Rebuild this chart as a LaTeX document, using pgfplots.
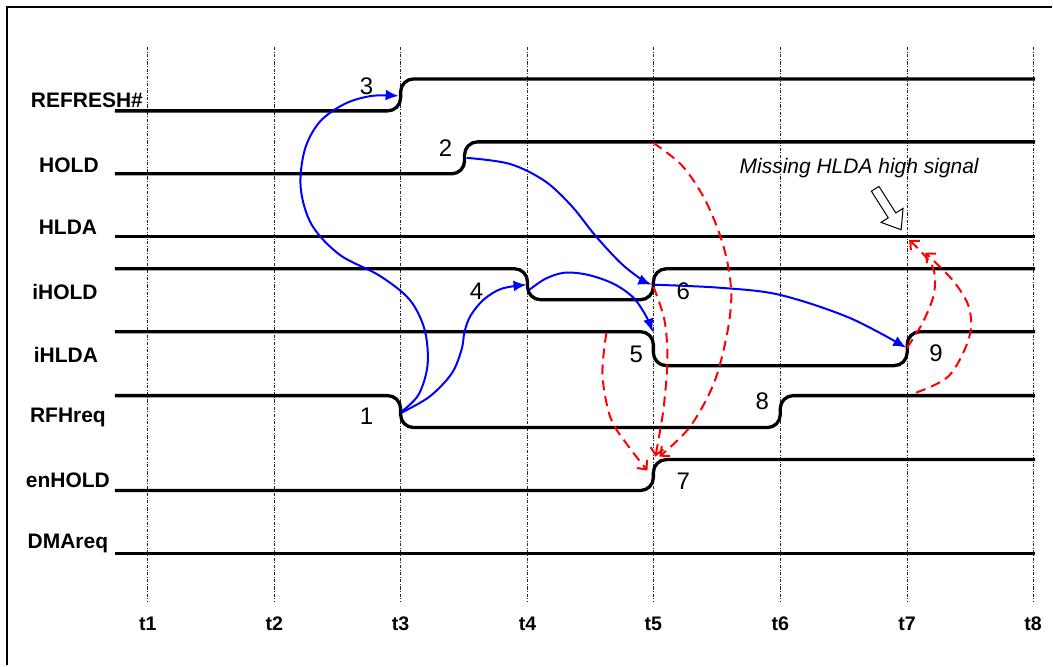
\documentclass[border=0pt]{standalone}
\usepackage{fontspec}
\setmainfont{Liberation Sans}
\usepackage{pgfplots}
\pgfplotsset{compat=1.18}
\usetikzlibrary{arrows.meta}
\tikzset{
  sig/.style={black, line width=1.65pt, rounded corners=6.5pt},
  blu/.style={blue, line width=1pt, smooth, tension=0.55, -{Latex[length=6.5pt,width=5.5pt]}},
  rd/.style={red, line width=1pt, smooth, tension=0.55, dash pattern=on 5pt off 3pt, -{Straight Barb[length=3.5pt,width=6.5pt]}},
  lab/.style={font=\fontsize{10.5}{12}\selectfont\bfseries},
  tl/.style={font=\fontsize{9.8}{11}\selectfont\bfseries},
  num/.style={font=\fontsize{12}{14}\selectfont}}
\begin{document}
\begin{tikzpicture}
\begin{axis}[scale only axis, width=526.5pt, height=333pt,
  xmin=0, xmax=1053, ymin=0, ymax=666, y dir=reverse, hide axis, clip=false]
\addplot[draw=none] coordinates {(0,0)(1053,666)};
% frame
\addplot[black, line width=1pt] coordinates {(7,666)(7,7)(1053,7)};
% grid
\pgfplotsinvokeforeach{148,274.6,401,528,654,781,908,1034}{
  \addplot[black!85, line width=0.4pt, dash pattern=on 1.6pt off 0.8pt on 0.4pt off 0.8pt] coordinates {(#1,47)(#1,603)};
}
% signals
\addplot[sig] coordinates {(115,111)(401,111)(401,79)(1036,79)};
\addplot[sig] coordinates {(115,174)(465,174)(465,142)(1036,142)};
\addplot[sig] coordinates {(115,237)(1036,237)};
\addplot[sig] coordinates {(115,269)(528,269)(528,300)(654,300)(654,269)(1036,269)};
\addplot[sig] coordinates {(115,332)(654,332)(654,366)(908,366)(908,332)(1036,332)};
\addplot[sig] coordinates {(115,396)(401,396)(401,428)(781,428)(781,396)(1036,396)};
\addplot[sig] coordinates {(115,491)(654,491)(654,460)(1036,460)};
\addplot[sig] coordinates {(115,554)(1036,554)};
% blue arrows
\addplot[blu] coordinates {(402,412)(419,395)(428,365)(425,330)(410,300)(380,276)(340,255)(312,225)(301,188)(305,150)(320,122)(345,104)(372,96)(399,96)};
\addplot[blu] coordinates {(402,413)(430,397)(452,374)(462,350)(465,332)(471,316)(484,300)(502,289)(527,285)};
\addplot[blu] coordinates {(467,158)(510,164)(545,181)(572,206)(596,236)(621,263)(641,279)(652,285)};
\addplot[blu] coordinates {(530,290)(546,279)(565,273)(588,275)(614,284)(634,298)(647,317)(653,332)};
\addplot[blu] coordinates {(655,285)(720,288)(780,295)(850,318)(907,348)};
% red dashed arrows
\addplot[rd] coordinates {(654,143)(682,165)(703,195)(718,228)(728,262)(732,298)(727,338)(714,385)(690,428)(660,457)};
\addplot[rd] coordinates {(654,287)(665,320)(668,360)(664,410)(656,457)};
\addplot[rd] coordinates {(607,333)(603,375)(611,418)(627,444)(648,471)};
\addplot[rd] coordinates {(908,348)(924,322)(935,293)(933,266)(910,240)};
\addplot[rd] coordinates {(917,393)(950,376)(970,338)(970,308)(954,281)(926,253)};
% hollow arrow
\addplot[draw=black, fill=white, line width=0.5pt] coordinates {(879.8,186.6)(896.7,213.2)(903.9,208.6)(902,230)(881.9,222.6)(889.1,218.0)(872.2,191.4)(879.8,186.6)};
% labels
\node[lab] at (axis cs:87,100) {REFRESH\#};
\node[lab] at (axis cs:69,165) {HOLD};
\node[lab] at (axis cs:68,228) {HLDA};
\node[lab] at (axis cs:65,292) {iHOLD};
\node[lab] at (axis cs:66,355) {iHLDA};
\node[lab] at (axis cs:68,418) {RFHreq};
\node[lab] at (axis cs:68,481) {enHOLD};
\node[lab] at (axis cs:68,544) {DMAreq};
\node[tl] at (axis cs:148,624) {t1};
\node[tl] at (axis cs:274.6,624) {t2};
\node[tl] at (axis cs:401,624) {t3};
\node[tl] at (axis cs:528,624) {t4};
\node[tl] at (axis cs:654,624) {t5};
\node[tl] at (axis cs:781,624) {t6};
\node[tl] at (axis cs:908,624) {t7};
\node[tl] at (axis cs:1034,624) {t8};
\node[num] at (axis cs:367,86) {3};
\node[num] at (axis cs:446,148) {2};
\node[num] at (axis cs:367,417) {1};
\node[num] at (axis cs:477,292) {4};
\node[num] at (axis cs:637,355) {5};
\node[num] at (axis cs:684,292) {6};
\node[num] at (axis cs:684,482) {7};
\node[num] at (axis cs:763,402) {8};
\node[num] at (axis cs:937,354) {9};
\node[font=\fontsize{10.5}{12}\selectfont\itshape] at (axis cs:860,168) {Missing HLDA high signal};
\end{axis}
\end{tikzpicture}
\end{document}
